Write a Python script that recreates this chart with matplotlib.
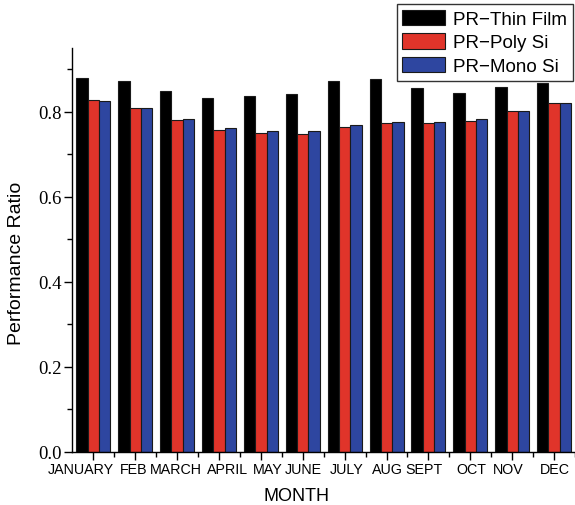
import numpy as np
import matplotlib
matplotlib.use('Agg')
import matplotlib.pyplot as plt
import matplotlib.transforms as mtransforms
from matplotlib.ticker import MultipleLocator, FixedLocator

months = ['JANUARY', 'FEB', 'MARCH', 'APRIL', 'MAY', 'JUNE', 'JULY',
          'AUG', 'SEPT', 'OCT', 'NOV', 'DEC']
pr_thin = [0.879, 0.872, 0.849, 0.832, 0.838, 0.843, 0.872, 0.878, 0.857, 0.845, 0.859, 0.868]
pr_poly = [0.827, 0.810, 0.780, 0.758, 0.750, 0.749, 0.764, 0.773, 0.773, 0.779, 0.802, 0.821]
pr_mono = [0.825, 0.809, 0.782, 0.762, 0.755, 0.755, 0.768, 0.776, 0.776, 0.782, 0.802, 0.820]
labels = ['PR\u2212Thin Film', 'PR\u2212Poly Si', 'PR\u2212Mono Si']
colors = ['#000000', '#E0342A', '#2E46A0']
# small shifts of the month labels (pixels) as in the original
label_shift = [-13, -2, -1, 9, 7, 1, 2, 1, -4, 1, -4, 1]

plt.rcParams['font.family'] = ['Liberation Sans', 'DejaVu Sans']

fig = plt.figure(figsize=(5.75, 5.06), dpi=100)
ax = fig.add_axes([0.126, 0.105, 0.874, 0.798])

x = np.arange(1, len(months) + 1)
w = 0.27
series = [pr_thin, pr_poly, pr_mono]
for i, (vals, c, lab) in enumerate(zip(series, colors, labels)):
    ax.bar(x + (i - 1) * w, vals, w, color=c, edgecolor='#1a1a1a',
           linewidth=0.8, label=lab)

ax.set_xlim(0.5, 12.5)
ax.set_ylim(0, 0.95)
ax.set_xticks(x)
ax.set_xticklabels([])
ax.xaxis.set_minor_locator(FixedLocator(x + 0.5))
# month labels, drawn under the ticks with the original's small offsets
for xi, m, dx in zip(x, months, label_shift):
    tr = ax.get_xaxis_transform() + mtransforms.ScaledTranslation(
        dx / 100, -10 / 100, fig.dpi_scale_trans)
    ax.text(xi, 0, m, transform=tr, ha='center', va='top', fontsize=10.3)

ax.yaxis.set_minor_locator(MultipleLocator(0.1))
ax.set_yticks([0.0, 0.2, 0.4, 0.6, 0.8])
ax.set_yticklabels(['0.0', '0.2', '0.4', '0.6', '0.8'],
                   family='Liberation Serif', fontsize=13.5)

ax.tick_params(which='major', direction='out', length=6, width=1, pad=2)
ax.tick_params(which='minor', direction='out', length=3.5, width=1)
ax.spines['top'].set_visible(False)
ax.spines['right'].set_visible(False)
ax.spines['left'].set_linewidth(1)
ax.spines['bottom'].set_linewidth(1)

ax.set_xlabel('MONTH', fontsize=13)
ax.xaxis.set_label_coords(0.445, -0.087)
ax.set_ylabel('Performance Ratio', fontsize=14)
ax.yaxis.set_label_coords(-0.094, 0.47)

leg = fig.legend(loc='upper right', bbox_to_anchor=(0.996, 0.99),
                 fontsize=13.5, frameon=True, fancybox=False,
                 handlelength=2.25, handleheight=0.9, handletextpad=0.45,
                 labelspacing=0.28, borderpad=0.3, borderaxespad=0)
leg.get_frame().set_edgecolor('black')
leg.get_frame().set_linewidth(1)

fig.savefig('out.png', dpi=100)
